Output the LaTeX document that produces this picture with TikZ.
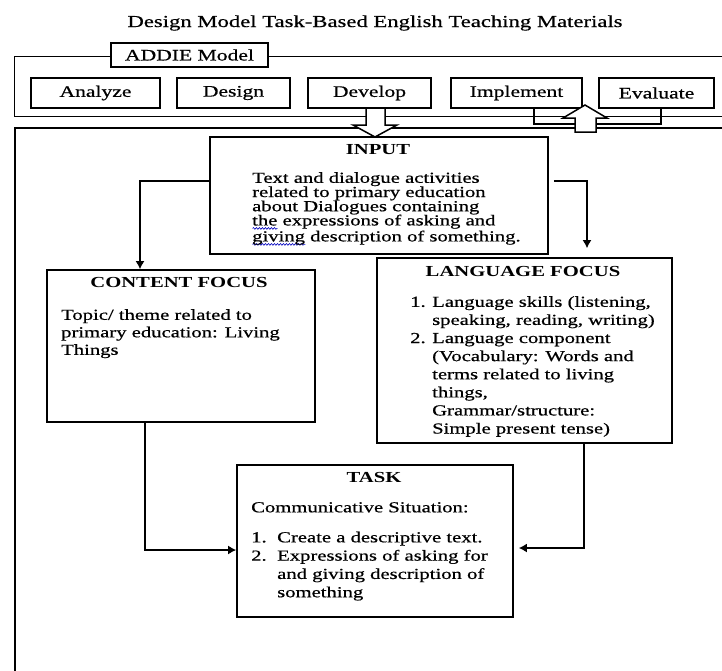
\documentclass[tikz,border=0pt]{standalone}
\usepackage{fontspec}
\setmainfont{Liberation Serif}[FakeStretch=1.35, UprightFeatures={FakeBold=0.6}]
\usepackage{xcolor}
\usetikzlibrary{arrows.meta,calc,decorations.pathmorphing}
\newsavebox\wavebox
\newcommand\bwave[1]{\sbox\wavebox{#1}\rlap{\tikz[baseline=0pt,x=1pt,y=1pt]\draw[blue!75!black, line width=0.6pt, decorate, decoration={snake, amplitude=0.9pt, segment length=3pt}] (0,-3) -- (\wd\wavebox,-3);}\usebox\wavebox}
\tikzset{
  stepbox/.style={draw, line width=1.5pt, inner sep=0pt, font=\fontsize{16}{18}\selectfont, minimum height=30pt},
  bigbox/.style={draw, line width=1.6pt, inner sep=0pt},
  frame/.style={draw, line width=1.3pt, inner sep=0pt, anchor=north west},
  head/.style={font=\bfseries\fontsize{15.3}{18}\selectfont, inner sep=0pt},
  body/.style={align=left, inner sep=0pt, anchor=north west},
  arr/.style={line width=1.5pt, -{Latex[length=8pt,width=9pt]}},
  hollow/.style={draw, line width=1.5pt, fill=white, line join=miter},
}
\begin{document}
\begin{tikzpicture}[x=1pt,y=-1pt]
\clip (0,0) rectangle (722,670);
\fill[white] (0,0) rectangle (722,670);

\node[inner sep=0pt, font=\fontsize{16.8}{19}\selectfont] (title) at (375,23) {Design Model Task-Based English Teaching Materials};

% ADDIE frame
\node[frame, minimum width=730pt, minimum height=60pt] (addieframe) at (14,56) {};
\node[draw, line width=2.2pt, fill=white, minimum width=157pt, minimum height=24pt, inner sep=0pt, font=\fontsize{16}{18}\selectfont] (addie) at (189.5,55) {ADDIE Model};

\node[stepbox, minimum width=129pt] (analyze) at (95.5,93) {Analyze};
\node[stepbox, minimum width=113pt] (design) at (233.5,93) {Design};
\node[stepbox, minimum width=123pt] (develop) at (369.5,93) {Develop};
\node[stepbox, minimum width=131pt] (implement) at (516.5,93) {Implement};
\node[stepbox, minimum width=115pt] (evaluate) at (656.5,93) {Evaluate};

% main frame
\node[frame, line width=1.7pt, minimum width=740pt, minimum height=600pt] (mainframe) at (14,127) {};

% implement - evaluate connection
\draw[line width=1.2pt] (implement.south -| 534,0) -- (534,124) -| (evaluate.south -| 661,0);

% boxes
\node[bigbox, minimum width=338pt, minimum height=117pt] (input) at (379,195.5) {};
\node[bigbox, minimum width=268pt, minimum height=152pt] (content) at (181,346) {};
\node[bigbox, minimum width=295pt, minimum height=185pt] (language) at (524.5,350.5) {};
\node[bigbox, minimum width=276pt, minimum height=152pt] (task) at (375,541) {};

% hollow arrows
\draw[hollow] (366,108) -- (385,108) -- (385,125) -- (397,125) -- (375,137) -- (353,125) -- (366,125) -- cycle;
\draw[hollow] (575,132) -- (596,132) -- (596,118) -- (607,118) -- (585,105) -- (563,118) -- (575,118) -- cycle;

% headings
\node[head] (inputh) at (378,150) {INPUT};
\node[head] (contenth) at (179,283) {CONTENT FOCUS};
\node[head] (languageh) at (523,272) {LANGUAGE FOCUS};
\node[head] (taskh) at (374,477) {TASK};

% texts
\node[body, font=\fontsize{15.3}{14.2}\selectfont] (inputtxt) at (252,172) {Text and dialogue activities\\related to primary education\\about Dialogues containing\\\bwave{the} expressions of asking and\\\bwave{giving} description of something.};

\node[body, font=\fontsize{15.3}{17.5}\selectfont] (contenttxt) at (61,309) {Topic/ theme related to\\primary education: Living\\Things};

\node[body, font=\fontsize{15.3}{18.1}\selectfont] (languagetxt) at (410,296) {\makebox[22pt][l]{1.}Language skills (listening,\\\hspace*{22pt}speaking, reading, writing)\\\makebox[22pt][l]{2.}Language component\\\hspace*{22pt}(Vocabulary: Words and\\\hspace*{22pt}terms related to living\\\hspace*{22pt}things,\\\hspace*{22pt}Grammar/structure:\\\hspace*{22pt}Simple present tense)};

\node[body, font=\fontsize{15.3}{18.3}\selectfont] (tasktxt) at (251,502) {Communicative Situation:\\[11.7pt]\makebox[26pt][l]{1.}Create a descriptive text.\\\makebox[26pt][l]{2.}Expressions of asking for\\\hspace*{26pt}and giving description of\\\hspace*{26pt}something};

% connectors
\draw[arr] (input.west |- 0,181) -| (140,0 |- content.north);
\draw[arr] ($(input.east |- 0,181)+(5,0)$) -| ($(587,0 |- language.north)+(0,-9)$);
\draw[arr] (145,0 |- content.south) |- (task.west |- 0,550);
\draw[arr] (584,0 |- language.south) |- ($(task.east |- 0,548)+(5,0)$);
\end{tikzpicture}
\end{document}
